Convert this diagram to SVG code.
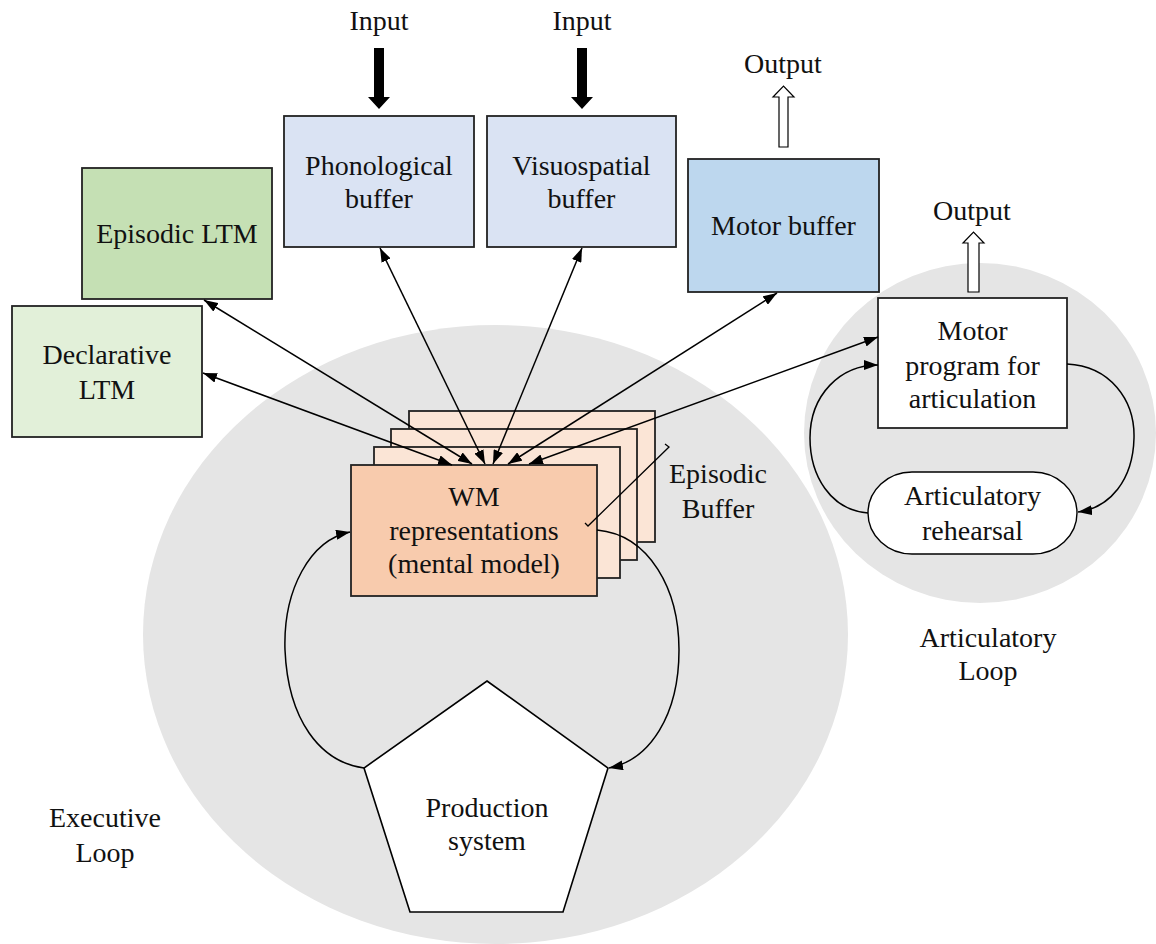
<svg xmlns="http://www.w3.org/2000/svg" width="1156" height="944" viewBox="0 0 1156 944" font-family="'Liberation Serif', 'Times New Roman', Times, serif">
<style>
text{font-family:'Liberation Serif','Times New Roman',Times,serif;font-size:28px;fill:#111;text-anchor:middle}
.box{stroke:#222;stroke-width:1.8}
.con{fill:none;stroke:#000;stroke-width:1.5}
.loop{fill:none;stroke:#000;stroke-width:1.5}
</style>
<defs>
<marker id="ah" viewBox="0 0 14 10" refX="14" refY="5" markerWidth="14" markerHeight="10" markerUnits="userSpaceOnUse" orient="auto-start-reverse">
<path d="M0,0 L14,5 L0,10 z" fill="#000"/>
</marker>
</defs>
<rect width="1156" height="944" fill="#fff"/>
<g id="exec-loop-bg"><ellipse cx="495.5" cy="634.5" rx="352.5" ry="309.5" fill="#e5e5e5"/></g>
<g id="artic-loop-bg"><ellipse cx="980" cy="433" rx="176" ry="170" fill="#e5e5e5"/></g>

<g id="input1"><text x="379" y="30" font-family="Liberation Serif, serif">Input</text><polygon points="374,48 384,48 384,97 390,97 379,109 368,97 374,97" fill="#000"/></g>
<g id="input2"><text x="582" y="30">Input</text><polygon points="577,48 587,48 587,97 593,97 582,109 571,97 577,97" fill="#000"/></g>
<g id="output1"><text x="783" y="73">Output</text><polygon points="779,147 788,147 788,97 794,97 783.5,86 773,97 779,97" fill="#fff" stroke="#000" stroke-width="1.2"/></g>
<g id="output2"><text x="972" y="220">Output</text><polygon points="968,292 979,292 979,243 984,243 973.5,232 963,243 968,243" fill="#fff" stroke="#000" stroke-width="1.2"/></g>

<g id="phonological"><rect class="box" x="284" y="116" width="190" height="131" fill="#dae3f3"/><text x="379" y="175">Phonological</text><text x="379" y="208">buffer</text></g>
<g id="visuospatial"><rect class="box" x="487" y="116" width="189" height="131" fill="#dae3f3"/><text x="581.5" y="175">Visuospatial</text><text x="581.5" y="208">buffer</text></g>
<g id="motor-buffer"><rect class="box" x="688" y="159" width="191" height="133" fill="#bdd7ee"/><text x="783.5" y="235">Motor buffer</text></g>
<g id="episodic-ltm"><rect class="box" x="82" y="168" width="190" height="131" fill="#c5e0b4"/><text x="177" y="243">Episodic LTM</text></g>
<g id="declarative-ltm"><rect class="box" x="12" y="306" width="190" height="131" fill="#e2f0d9"/><text x="107" y="364">Declarative</text><text x="107" y="399">LTM</text></g>
<g id="motor-program"><rect class="box" x="878" y="298" width="189" height="130" fill="#fff"/><text x="972.5" y="340">Motor</text><text x="972.5" y="375">program for</text><text x="972.5" y="408">articulation</text></g>
<g id="articulatory-rehearsal"><rect x="868" y="472" width="209" height="82" rx="44" ry="41" fill="#fff" stroke="#000" stroke-width="1.4"/><text x="972.5" y="505">Articulatory</text><text x="972.5" y="540">rehearsal</text></g>

<g id="wm">
<rect class="box" x="409" y="411" width="246" height="131" fill="#fbe5d6"/>
<rect class="box" x="391" y="429" width="246" height="131" fill="#fbe5d6"/>
<rect class="box" x="374" y="447" width="246" height="131" fill="#fbe5d6"/>
<rect class="box" x="351" y="465" width="246" height="131" fill="#f8cbad"/>
<text x="474" y="506">WM</text><text x="474" y="540">representations</text><text x="474" y="573">(mental model)</text>
</g>
<g id="production-system"><polygon points="487,681 608,768 563,912 410,912 364,768" fill="#fff" stroke="#000" stroke-width="1.6"/><text x="487" y="817">Production</text><text x="487" y="850">system</text></g>

<g id="labels">
<text x="718" y="483">Episodic</text><text x="718" y="518">Buffer</text>
<text x="105" y="827">Executive</text><text x="105" y="862">Loop</text>
<text x="988" y="647">Articulatory</text><text x="988" y="680">Loop</text>
</g>

<g id="connectors">
<line class="con" x1="204" y1="300" x2="472" y2="464" marker-start="url(#ah)" marker-end="url(#ah)"/>
<line class="con" x1="203" y1="373" x2="452" y2="465" marker-start="url(#ah)" marker-end="url(#ah)"/>
<line class="con" x1="380" y1="248" x2="485" y2="464" marker-start="url(#ah)" marker-end="url(#ah)"/>
<line class="con" x1="582" y1="248" x2="493" y2="464" marker-start="url(#ah)" marker-end="url(#ah)"/>
<line class="con" x1="777" y1="293" x2="508" y2="464" marker-start="url(#ah)" marker-end="url(#ah)"/>
<line class="con" x1="878" y1="337" x2="529" y2="464" marker-start="url(#ah)" marker-end="url(#ah)"/>
<path class="loop" d="M364,768 C320,762 288,720 285,650 C283,590 310,540 350,532" marker-end="url(#ah)"/>
<path class="loop" d="M597,530 C650,535 679,590 679,650 C679,715 650,760 609,768" marker-end="url(#ah)"/>
<path class="loop" d="M1067,364 C1110,366 1135,400 1134,438 C1133,480 1110,508 1078,512" marker-end="url(#ah)"/>
<path class="loop" d="M868,513 C830,510 810,475 810,438 C810,395 840,365 878,365" marker-end="url(#ah)"/>
<polyline points="665,444 669,447 588,526 585,523" fill="none" stroke="#000" stroke-width="1.3"/>
</g>
</svg>
